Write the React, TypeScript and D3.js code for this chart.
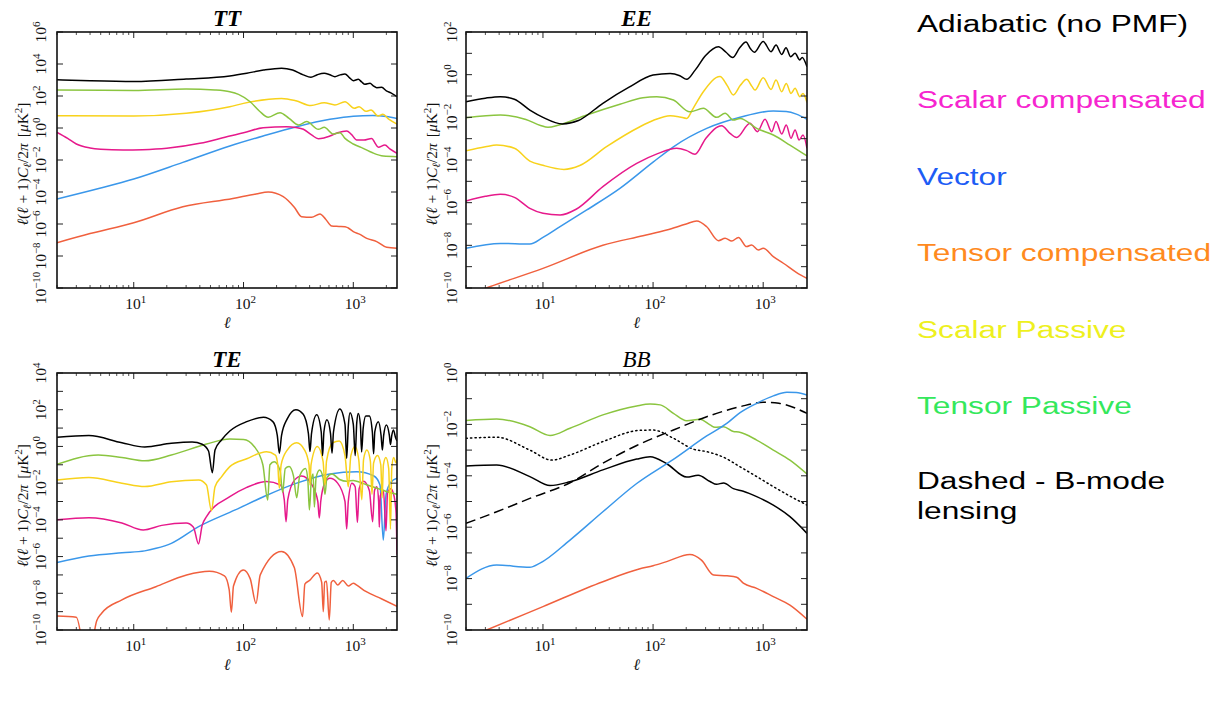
import React from "react";
import * as d3 from "d3";

type Pt = [number, number]; // [multipole ell, log10 of l(l+1)C_l/2pi in muK^2]

const ELL_MIN = 2;
const ELL_MAX = 2500;

// ---------------- TT ----------------
const ttAdiabatic: Pt[] = [[2,3.02],[4,2.95],[10,2.9],[30,3.06],[75,3.25],[107,3.42],[152,3.62],[222,3.74],[280,3.62],[350,3.32],[411,3.17],[470,3.33],[543,3.42],[610,3.33],[680,3.21],[760,3.32],[840,3.375],[920,3.15],[1000,2.96],[1110,3.04],[1190,2.88],[1275,2.73],[1420,2.79],[1520,2.64],[1633,2.52],[1813,2.54],[2000,2.32],[2200,2.2],[2500,1.96]];
const ttScalarComp: Pt[] = [[2,-0.27],[2.5,-0.65],[3,-1.0],[4,-1.25],[5,-1.33],[8,-1.38],[12,-1.36],[20,-1.27],[40,-0.96],[75,-0.5],[100,-0.3],[151,0.02],[247,0.08],[300,0.03],[351,-0.08],[420,-0.45],[480,-0.67],[540,-0.62],[612,-0.5],[720,-0.3],[870,-0.19],[960,-0.4],[1075,-0.75],[1250,-0.75],[1470,-0.65],[1580,-0.95],[1690,-1.21],[1940,-1.06],[2150,-1.3],[2500,-1.58]];
const ttVector: Pt[] = [[2,-4.44],[4.9,-3.77],[10,-3.19],[28,-2.15],[75,-1.125],[151,-0.5],[305,0.08],[612,0.54],[1000,0.74],[1500,0.78],[2000,0.72],[2500,0.6]];
const ttTensorComp: Pt[] = [[2,-7.17],[4,-6.6],[10,-5.92],[28,-4.92],[80,-4.4],[130,-4.12],[168,-4.0],[230,-4.29],[290,-4.95],[338,-5.54],[417,-5.58],[497,-5.375],[560,-5.7],[635,-6.125],[740,-6.15],[840,-6.17],[900,-6.25],[1000,-6.48],[1150,-6.65],[1325,-6.9],[1633,-7.1],[2013,-7.46],[2500,-7.52]];
const ttScalarPass: Pt[] = [[2,0.77],[10,0.75],[30,0.92],[75,1.33],[100,1.54],[222,1.85],[300,1.7],[411,1.4],[543,1.58],[680,1.44],[840,1.64],[1020,1.23],[1130,1.33],[1300,1.04],[1450,1.125],[1680,0.75],[1860,0.86],[2100,0.55],[2500,0.25]];
const ttTensorPass: Pt[] = [[2,2.375],[10,2.35],[30,2.44],[55,2.38],[75,2.27],[90,2.1],[115,1.64],[140,1.05],[168,0.67],[215,0.96],[260,0.6],[316,0.19],[376,0.4],[480,-0.08],[543,0.04],[658,-0.375],[756,-0.29],[840,-0.65],[1000,-1.0],[1230,-1.27],[1500,-1.55],[1875,-1.75],[2500,-1.79]];

// ---------------- EE ----------------
const eeAdiabatic: Pt[] = [[2,-1.27],[3,-1.1],[4.1,-1.03],[5.5,-1.15],[7.6,-1.66],[10,-2.0],[15,-2.31],[21,-2.15],[35,-1.34],[60,-0.6],[100,-0.02],[143,0.06],[175,-0.05],[202,-0.22],[240,0.2],[300,0.9],[392,1.31],[460,1.05],[528,0.8],[610,1.25],[698,1.53],[770,1.2],[831,1.05],[1000,1.56],[1178,1.08],[1308,1.39],[1473,0.95],[1611,1.26],[1778,0.84],[1948,1.0],[2150,0.69],[2260,0.81],[2500,0.37]];
const eeScalarComp: Pt[] = [[2,-5.92],[3,-5.7],[4.1,-5.61],[5.5,-5.75],[7.6,-6.27],[10,-6.5],[14.3,-6.58],[20,-6.31],[35,-5.25],[71,-4.16],[110,-3.7],[164,-3.45],[200,-3.55],[240,-3.73],[300,-3.0],[420,-2.39],[500,-2.75],[574,-2.95],[759,-2.28],[885,-2.67],[1040,-2.09],[1196,-2.67],[1308,-2.2],[1473,-2.78],[1620,-2.36],[1790,-2.98],[1948,-2.59],[2120,-3.06],[2300,-2.83],[2500,-3.45]];
const eeVector: Pt[] = [[2,-8.14],[4.1,-7.91],[7.6,-7.94],[10,-7.63],[14.3,-7.125],[25,-6.34],[50,-5.33],[100,-4.1],[153,-3.38],[307,-2.52],[617,-2.0],[1236,-1.7],[1620,-1.73],[2000,-1.85],[2500,-2.09]];
const eeTensorComp: Pt[] = [[2,-10.34],[3.28,-9.94],[10,-9.08],[35,-8.0],[81,-7.55],[133,-7.28],[200,-7.0],[249,-6.86],[307,-7.13],[392,-7.78],[451,-7.67],[518,-7.8],[596,-7.63],[708,-8.06],[785,-7.98],[904,-8.22],[1000,-8.14],[1236,-8.53],[1525,-8.84],[2013,-9.28],[2500,-9.55]];
const eeScalarPass: Pt[] = [[2,-3.57],[3,-3.38],[3.8,-3.3],[5.5,-3.45],[7.6,-4.05],[10,-4.25],[15.5,-4.44],[21.6,-4.26],[37.8,-3.375],[76,-2.44],[100,-2.15],[143,-1.92],[175,-1.98],[202,-2.05],[230,-1.6],[286,-0.8],[405,-0.09],[470,-0.5],[536,-0.95],[620,-0.5],[708,-0.22],[790,-0.55],[843,-0.72],[1000,-0.14],[1178,-0.69],[1308,-0.25],[1473,-0.8],[1620,-0.41],[1790,-0.88],[1948,-0.64],[2150,-1.03],[2300,-0.88],[2500,-1.31]];
const eeTensorPass: Pt[] = [[2,-2.02],[4.1,-1.89],[7,-2.1],[9.5,-2.38],[11.1,-2.47],[14,-2.36],[25,-1.89],[50,-1.39],[81,-1.08],[108,-1.03],[153,-1.19],[216,-1.74],[286,-1.58],[378,-2.0],[451,-1.81],[536,-2.13],[617,-2.05],[873,-2.52],[1236,-2.83],[1750,-3.3],[2500,-3.81]];

// ---------------- TE ----------------
const teAdiabatic: Pt[] = [[2,0.5],[3.9,0.59],[7.8,0.2],[12.6,-0.03],[22,0.17],[34,0.24],[42,0.12],[48,-0.25],[52,-1.43],[55,-0.2],[63,0.35],[75,0.84],[107,1.35],[152,1.59],[185,1.35],[203,0.6],[212,-0.37],[222,0.6],[250,1.5],[300,2.0],[350,1.75],[390,0.7],[403,-0.28],[416,0.7],[464,1.72],[510,0.8],[525,-0.5],[540,0.8],[575,1.45],[620,0.7],[640,-0.37],[660,0.8],[755,2.04],[840,1.2],[870,-0.65],[900,1.1],[933,1.84],[1000,1.2],[1040,-0.5],[1075,1.3],[1110,1.8],[1160,1.2],[1190,-0.3],[1230,1.0],[1300,1.66],[1400,1.66],[1490,0.8],[1530,-0.4],[1570,0.8],[1690,1.35],[1790,0.6],[1840,-0.2],[1890,0.6],[2000,1.17],[2130,0.6],[2180,0.1],[2240,0.6],[2320,0.9],[2420,0.5],[2500,0.3]];
const teScalarComp: Pt[] = [[2,-4.0],[3.9,-3.88],[7.8,-4.17],[12.2,-4.55],[18,-4.3],[30,-4.17],[35,-4.4],[38.9,-5.31],[42,-4.3],[46,-3.83],[75,-2.74],[107,-2.23],[162,-1.91],[217,-2.1],[235,-2.9],[244,-4.1],[253,-2.9],[290,-1.85],[338,-1.61],[420,-2.1],[475,-3.0],[490,-3.9],[505,-3.0],[550,-2.0],[612,-1.74],[720,-2.0],[840,-3.0],[870,-4.5],[900,-3.0],[970,-2.0],[1040,-2.2],[1090,-4.15],[1130,-2.3],[1236,-1.9],[1400,-2.4],[1500,-4.1],[1560,-2.4],[1640,-2.2],[1700,-3.0],[1725,-4.4],[1760,-2.7],[1880,-2.4],[1985,-4.6],[2050,-2.5],[2200,-2.3],[2350,-2.7],[2450,-3.6],[2500,-5.9]];
const teVector: Pt[] = [[2,-6.33],[3.9,-5.97],[7.8,-5.79],[12.6,-5.69],[16,-5.55],[22,-5.28],[39,-4.37],[84,-3.46],[152,-2.74],[305,-2.0],[612,-1.5],[1075,-1.38],[1540,-1.61],[1750,-2.1],[1875,-5.1],[1990,-2.6],[2200,-1.95],[2500,-1.73]];
const teTensorComp: Pt[] = [[2,-9.24],[3.0,-9.3],[3.8,-12],[4.6,-9.5],[5.1,-9.09],[7.8,-8.36],[15.9,-7.64],[30.3,-7.0],[48.8,-6.8],[67,-7.05],[74,-7.8],[77.5,-9.03],[81,-7.6],[99.6,-6.73],[115,-7.2],[130,-8.55],[142,-7.0],[222,-5.73],[290,-6.6],[345,-9.27],[362,-7.5],[400,-7.3],[470,-6.89],[515,-7.4],[533,-9.0],[548,-7.4],[570,-7.35],[604,-9.45],[630,-7.4],[660,-7.3],[720,-7.55],[800,-7.3],[900,-7.6],[1000,-7.45],[1075,-7.56],[1300,-7.9],[1800,-8.3],[2500,-8.71]];
const teScalarPass: Pt[] = [[2,-1.83],[3.9,-1.69],[7.8,-2.0],[12.6,-2.18],[22,-1.92],[39,-1.83],[46,-2.1],[51,-3.5],[55,-2.2],[63,-1.66],[75,-1.1],[107,-0.67],[162,-0.29],[195,-0.47],[205,-1.0],[212,-2.28],[220,-1.0],[250,-0.2],[305,0.2],[360,-0.2],[395,-1.0],[403,-2.1],[412,-1.0],[470,-0.01],[530,-0.8],[552,-2.1],[570,-0.8],[650,0.2],[745,0.3],[840,-0.5],[900,-2.2],[950,-0.5],[1037,0.0],[1120,-0.7],[1195,-2.9],[1240,-0.7],[1330,-0.2],[1430,-0.8],[1480,-2.6],[1530,-0.9],[1660,-0.5],[1780,-1.0],[1830,-2.8],[1880,-1.0],[1980,-0.6],[2100,-1.2],[2180,-4.5],[2240,-1.2],[2330,-0.6],[2450,-0.9],[2500,-0.74]];
const teTensorPass: Pt[] = [[2,-0.97],[4.75,-0.47],[7.8,-0.6],[12.6,-0.78],[22,-0.47],[46,0.13],[75,0.4],[100,0.38],[125,0.0],[150,-1.0],[166,-2.92],[174,-1.0],[190,-0.83],[215,-1.3],[227,-2.5],[240,-1.2],[260,-1.1],[285,-1.6],[305,-2.8],[325,-1.6],[367,-1.2],[385,-1.8],[398,-3.46],[415,-1.8],[430,-1.5],[442,-3.3],[458,-1.7],[493,-1.28],[530,-1.7],[552,-2.6],[575,-1.7],[640,-1.5],[750,-1.8],[870,-1.9],[1000,-1.85],[1200,-2.0],[1500,-2.2],[1800,-2.35],[2100,-2.5],[2500,-2.6]];

// ---------------- BB ----------------
const bbAdiabatic: Pt[] = [[2,-3.62],[3.8,-3.58],[7.6,-4.03],[11.6,-4.38],[17.6,-4.23],[35,-3.77],[71,-3.35],[94,-3.26],[132,-3.52],[202,-4.05],[257,-3.98],[329,-4.22],[377,-4.33],[437,-4.28],[536,-4.5],[660,-4.6],[873,-4.81],[1236,-5.14],[1750,-5.59],[2500,-6.24]];
const bbVector: Pt[] = [[2,-7.99],[3.8,-7.47],[7.6,-7.56],[9.3,-7.41],[17.6,-6.5],[35,-5.4],[71,-4.3],[153,-3.36],[307,-2.45],[467,-1.96],[617,-1.54],[873,-1.18],[1236,-0.89],[1640,-0.75],[2000,-0.76],[2500,-0.86]];
const bbTensorComp: Pt[] = [[2,-10.33],[3.08,-10.0],[10,-9.09],[35,-8.12],[76,-7.62],[100,-7.5],[133,-7.34],[216,-7.06],[275,-7.28],[355,-7.86],[470,-7.89],[575,-7.95],[660,-8.18],[873,-8.38],[1236,-8.7],[1750,-9.03],[2500,-9.58]];
const bbTensorPass: Pt[] = [[2,-1.85],[3.8,-1.79],[7.6,-2.09],[11.6,-2.43],[17.6,-2.15],[35,-1.63],[71,-1.28],[94,-1.21],[116,-1.24],[153,-1.57],[202,-1.86],[267,-1.8],[329,-2.02],[365,-2.11],[437,-2.09],[536,-2.28],[600,-2.3],[873,-2.61],[1236,-3.0],[1750,-3.39],[2500,-3.93]];
const bbDotted: Pt[] = [[2,-2.54],[3.8,-2.5],[7.6,-3.0],[12,-3.39],[17.6,-3.19],[35,-2.67],[76,-2.23],[100,-2.22],[153,-2.54],[231,-2.96],[307,-3.06],[437,-3.28],[617,-3.65],[873,-4.03],[1236,-4.42],[1750,-4.79],[2500,-5.14]];
const bbLensing: Pt[] = [[2,-5.85],[3.8,-5.4],[7.6,-4.88],[17.6,-4.27],[35,-3.51],[71,-2.82],[153,-2.22],[307,-1.7],[617,-1.31],[1000,-1.14],[1390,-1.18],[2500,-1.57]];

// ---------------- legend ----------------
const legendLabels = ["Adiabatic (no PMF)", "Scalar compensated", "Vector", "Tensor compensated", "Scalar Passive", "Tensor Passive", "Dashed - B-mode", "lensing"];
const legendColors = ["#000000", "#f625cf", "#1d5cf5", "#ff8a1e", "#eef01e", "#34e85c", "#000000", "#000000"];
const legendBaselines = [32, 108, 185, 261, 338, 414, 489, 519];

const C = {
  black: "#000000",
  magenta: "#e6198b",
  blue: "#3a97ea",
  red: "#f0603e",
  yellow: "#f8d21c",
  green: "#8bc540",
};

interface Series { data: Pt[]; color: string; dash?: string; }
interface PanelSpec {
  id: string; title: string; bold: boolean;
  left: number; top: number; width: number; height: number;
  expMin: number; expMax: number; tickEvery: number; labelGap: number;
  series: Series[];
}

const panels: PanelSpec[] = [
  { id: "tt", title: "TT", bold: true, left: 57, top: 32, width: 340, height: 256, expMin: -10, expMax: 6, tickEvery: 2, labelGap: 11,
    series: [
      { data: ttTensorComp, color: C.red }, { data: ttVector, color: C.blue }, { data: ttScalarComp, color: C.magenta },
      { data: ttScalarPass, color: C.yellow }, { data: ttTensorPass, color: C.green }, { data: ttAdiabatic, color: C.black },
    ] },
  { id: "ee", title: "EE", bold: true, left: 466, top: 32, width: 341, height: 256, expMin: -10, expMax: 2, tickEvery: 1, labelGap: 9,
    series: [
      { data: eeTensorComp, color: C.red }, { data: eeVector, color: C.blue }, { data: eeScalarComp, color: C.magenta },
      { data: eeScalarPass, color: C.yellow }, { data: eeTensorPass, color: C.green }, { data: eeAdiabatic, color: C.black },
    ] },
  { id: "te", title: "TE", bold: true, left: 57, top: 373, width: 340, height: 257, expMin: -10, expMax: 4, tickEvery: 1, labelGap: 11,
    series: [
      { data: teTensorComp, color: C.red }, { data: teVector, color: C.blue }, { data: teScalarComp, color: C.magenta },
      { data: teTensorPass, color: C.green }, { data: teScalarPass, color: C.yellow }, { data: teAdiabatic, color: C.black },
    ] },
  { id: "bb", title: "BB", bold: false, left: 466, top: 373, width: 341, height: 257, expMin: -10, expMax: 0, tickEvery: 1, labelGap: 9,
    series: [
      { data: bbTensorComp, color: C.red }, { data: bbTensorPass, color: C.green }, { data: bbAdiabatic, color: C.black },
      { data: bbDotted, color: C.black, dash: "1.3,3.2" }, { data: bbLensing, color: C.black, dash: "10,5" }, { data: bbVector, color: C.blue },
    ] },
];

const SERIF = "'Liberation Serif', 'DejaVu Serif', serif";
const SANS = "'Liberation Sans', Arial, Helvetica, sans-serif";

function Pow10({ exp }: { exp: number }) {
  const s = exp < 0 ? `\u2212${Math.abs(exp)}` : `${exp}`;
  return (
    <>
      10<tspan dy={-6} fontSize={11}>{s}</tspan>
    </>
  );
}

function Panel({ p }: { p: PanelSpec }) {
  const x = d3.scaleLog().domain([ELL_MIN, ELL_MAX]).range([p.left, p.left + p.width]);
  const y = d3.scaleLog().domain([Math.pow(10, p.expMin), Math.pow(10, p.expMax)]).range([p.top + p.height, p.top]);
  const line = d3.line<Pt>().x((d) => x(d[0])).y((d) => y(Math.pow(10, d[1]))).curve(d3.curveMonotoneX);
  const bottom = p.top + p.height;
  const right = p.left + p.width;
  const cx = p.left + p.width / 2;
  const cy = p.top + p.height / 2;

  const majorX = [10, 100, 1000];
  const minorX: number[] = [];
  [1, 10, 100, 1000].forEach((dec) => {
    for (let k = 2; k <= 9; k++) {
      const v = k * dec;
      if (v >= ELL_MIN && v <= ELL_MAX) minorX.push(v);
    }
  });
  const yTicks = d3.range(p.expMin, p.expMax + 1, p.tickEvery);
  const yLabels = d3.range(p.expMin, p.expMax + 1, 2);
  const clipId = `clip-${p.id}`;
  const tick = "#222";

  return (
    <g>
      <defs>
        <clipPath id={clipId}>
          <rect x={p.left} y={p.top} width={p.width} height={p.height} />
        </clipPath>
      </defs>
      <g clipPath={`url(#${clipId})`}>
        {p.series.map((s, i) => (
          <path key={i} d={line(s.data) || ""} fill="none" stroke={s.color} strokeWidth={1.5}
            strokeDasharray={s.dash} strokeLinecap={s.dash && s.dash.startsWith("1.3") ? "round" : "butt"} />
        ))}
      </g>
      {majorX.map((v) => (
        <g key={`mx${v}`}>
          <line x1={x(v)} x2={x(v)} y1={bottom} y2={bottom - 6} stroke={tick} strokeWidth={1} />
          <line x1={x(v)} x2={x(v)} y1={p.top} y2={p.top + 6} stroke={tick} strokeWidth={1} />
        </g>
      ))}
      {minorX.map((v) => (
        <g key={`nx${v}`}>
          <line x1={x(v)} x2={x(v)} y1={bottom} y2={bottom - 3} stroke={tick} strokeWidth={0.8} />
          <line x1={x(v)} x2={x(v)} y1={p.top} y2={p.top + 3} stroke={tick} strokeWidth={0.8} />
        </g>
      ))}
      {yTicks.map((e) => (
        <g key={`y${e}`}>
          <line x1={p.left} x2={p.left + 6} y1={y(Math.pow(10, e))} y2={y(Math.pow(10, e))} stroke={tick} strokeWidth={1} />
          <line x1={right} x2={right - 6} y1={y(Math.pow(10, e))} y2={y(Math.pow(10, e))} stroke={tick} strokeWidth={1} />
        </g>
      ))}
      <rect x={p.left} y={p.top} width={p.width} height={p.height} fill="none" stroke="#111" strokeWidth={1.6} />
      {majorX.map((v) => (
        <text key={`lx${v}`} x={x(v) + 2} y={bottom + 21} textAnchor="middle" fontFamily={SERIF} fontSize={15.5} fill="#111">
          <Pow10 exp={Math.round(Math.log10(v))} />
        </text>
      ))}
      {yLabels.map((e) => (
        <text key={`ly${e}`} transform={`translate(${p.left - p.labelGap},${y(Math.pow(10, e))}) rotate(-90)`}
          textAnchor="middle" fontFamily={SERIF} fontSize={15.5} fill="#111">
          <Pow10 exp={e} />
        </text>
      ))}
      <text x={cx} y={bottom + 40} textAnchor="middle" fontFamily={SERIF} fontStyle="italic" fontSize={16} fill="#111">ℓ</text>
      <text transform={`translate(${p.left - 29},${cy + 4}) rotate(-90)`} textAnchor="middle" fontFamily={SERIF} fontSize={15.5} fill="#111">
        <tspan fontStyle="italic">ℓ</tspan>(<tspan fontStyle="italic">ℓ</tspan> + 1)<tspan fontStyle="italic">C</tspan>
        <tspan fontStyle="italic" fontSize={11} dy={3}>ℓ</tspan><tspan dy={-3}>/2</tspan><tspan fontStyle="italic">π</tspan>
        <tspan dx={6}>[</tspan><tspan fontStyle="italic">μ</tspan>K<tspan fontSize={11} dy={-6}>2</tspan><tspan dy={6}>]</tspan>
      </text>
      <text x={cx} y={p.top - 6} textAnchor="middle" fontFamily={SERIF} fontStyle="italic" fontWeight={p.bold ? "bold" : "normal"} fontSize={23} fill="#000">
        {p.title}
      </text>
    </g>
  );
}

export default function App() {
  return (
    <svg width={1217} height={701} viewBox="0 0 1217 701" style={{ position: "absolute", left: 0, top: 0, background: "#fff" }}>
      <rect x={0} y={0} width={1217} height={701} fill="#fff" />
      {panels.map((p) => (
        <Panel key={p.id} p={p} />
      ))}
      {legendLabels.map((t, i) => (
        <text key={t} transform={`translate(917,${legendBaselines[i]}) scale(1.32,1)`} fontFamily={SANS} fontSize={24} fill={legendColors[i]}>
          {t}
        </text>
      ))}
    </svg>
  );
}
